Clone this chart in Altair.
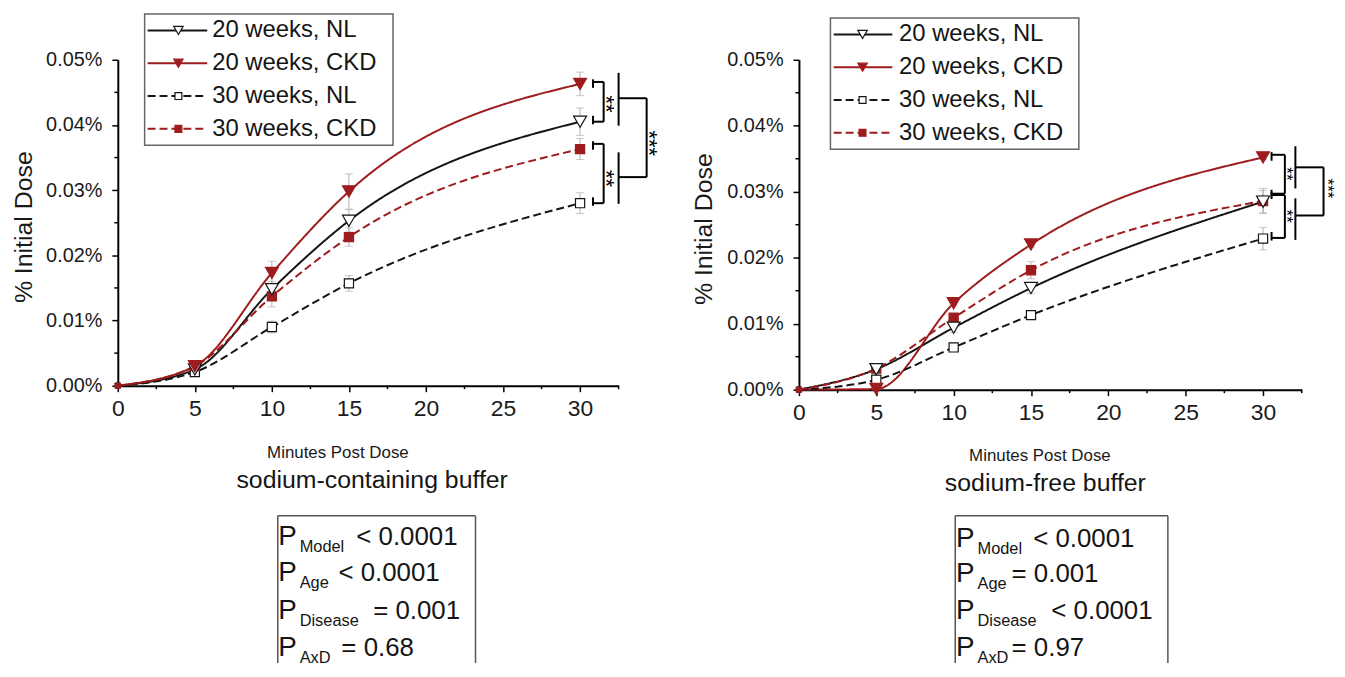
import altair as alt
import pandas as pd

FONT = "Liberation Sans"
BLACK = "#151515"
RED = "#9e1c1e"
GRAY = "#b0b0b0"

# ---------------- data ----------------
minutes = [0, 5, 10, 15, 30]
series_names = ["20 weeks, NL", "20 weeks, CKD", "30 weeks, NL", "30 weeks, CKD"]

# sodium-containing buffer (% initial dose)
na_20_nl = [0.0, 0.0025, 0.0148, 0.0253, 0.0405]
na_20_ckd = [0.0, 0.0030, 0.0173, 0.0298, 0.0463]
na_30_nl = [0.0, 0.0021, 0.0090, 0.0157, 0.0280]
na_30_ckd = [0.0, 0.0030, 0.0137, 0.0228, 0.0363]
na_20_nl_se = [0.0, 0.0003, 0.0012, 0.0017, 0.0021]
na_20_ckd_se = [0.0, 0.0003, 0.0018, 0.0027, 0.0018]
na_30_nl_se = [0.0, 0.0003, 0.0009, 0.0012, 0.0016]
na_30_ckd_se = [0.0, 0.0003, 0.0016, 0.0014, 0.0016]

# sodium-free buffer (% initial dose)
nf_20_nl = [0.0, 0.0031, 0.0094, 0.0154, 0.0285]
nf_20_ckd = [0.0, 0.0001, 0.0131, 0.0220, 0.0352]
nf_30_nl = [0.0, 0.0015, 0.0064, 0.0113, 0.0229]
nf_30_ckd = [0.0, 0.0032, 0.0109, 0.0181, 0.0286]
nf_20_nl_se = [0.0, 0.0002, 0.0007, 0.0008, 0.0017]
nf_20_ckd_se = [0.0, 0.0001, 0.0004, 0.0004, 0.0003]
nf_30_nl_se = [0.0, 0.0004, 0.0004, 0.0006, 0.0017]
nf_30_ckd_se = [0.0, 0.0003, 0.0006, 0.0013, 0.0019]

x_ticks = [0, 5, 10, 15, 20, 25, 30]
x_minor = [2.5, 7.5, 12.5, 17.5, 22.5, 27.5, 32.5]
y_ticks = [0.0, 0.01, 0.02, 0.03, 0.04, 0.05]
y_minor = [0.005, 0.015, 0.025, 0.035, 0.045]

p_names = ["Model", "Age", "Disease", "AxD"]
na_p = ["< 0.0001", "< 0.0001", "= 0.001", "= 0.68"]
nf_p = ["< 0.0001", "= 0.001", "< 0.0001", "= 0.97"]

# significance brackets (x in minutes, y in % initial dose): x1, y1, x2, y2
na_brackets = [
    (30.84, 0.0470, 30.84, 0.0457), (30.84, 0.0466, 31.53, 0.0466),
    (31.53, 0.0466, 31.53, 0.0405), (30.84, 0.0405, 31.53, 0.0405),
    (30.84, 0.0401, 30.84, 0.0414),
    (30.84, 0.0375, 30.84, 0.0362), (30.84, 0.0371, 31.53, 0.0371),
    (31.53, 0.0371, 31.53, 0.0280), (30.84, 0.0280, 31.53, 0.0280),
    (30.84, 0.0276, 30.84, 0.0289),
    (32.50, 0.0480, 32.50, 0.0399), (32.50, 0.0358, 32.50, 0.0279),
    (32.50, 0.0441, 34.32, 0.0441), (34.32, 0.0441, 34.32, 0.0320),
    (32.50, 0.0320, 34.32, 0.0320),
]
na_stars = [(32.0, 0.0432, "**"), (32.0, 0.0318, "**"), (34.8, 0.0372, "***")]

nf_brackets = [
    (30.55, 0.0360, 30.55, 0.0347), (30.55, 0.0356, 31.41, 0.0356),
    (31.41, 0.0356, 31.41, 0.0297), (30.55, 0.0297, 31.41, 0.0297),
    (30.55, 0.0293, 30.55, 0.0303),
    (30.55, 0.0299, 30.55, 0.0289), (30.55, 0.0295, 31.41, 0.0295),
    (31.41, 0.0295, 31.41, 0.0230), (30.55, 0.0230, 31.41, 0.0230),
    (30.55, 0.0226, 30.55, 0.0239),
    (32.09, 0.0369, 32.09, 0.0305), (32.09, 0.0290, 32.09, 0.0227),
    (32.09, 0.0337, 33.91, 0.0337), (33.91, 0.0337, 33.91, 0.0264),
    (32.09, 0.0264, 33.91, 0.0264),
]
nf_stars = [(31.75, 0.0327, "**"), (31.75, 0.0263, "**"), (34.4, 0.0305, "***")]

series_stroke = [BLACK, RED, BLACK, RED]
series_fill = ["white", RED, "white", RED]
series_shape = ["triangle-down", "triangle-down", "square", "square"]
series_dash = [[1, 0], [1, 0], [8, 4], [8, 4]]
legend_size = [90, 90, 48, 48]
TRI_SIZE = 170
SQ_SIZE = 85


def long_df(vals, ses):
    rows = []
    for name, v, s in zip(series_names, vals, ses):
        for m, a, e in zip(minutes, v, s):
            rows.append(dict(minutes=m, value=a, lo=a - e, hi=a + e, se=e, series=name))
    return pd.DataFrame(rows)


ONE = pd.DataFrame({"k": [0]})


def vtext(x, y, text, size, align="left", baseline="alphabetic", color=BLACK, angle=0):
    return alt.Chart(ONE).mark_text(
        text=text, font=FONT, fontSize=size, align=align, baseline=baseline,
        color=color, angle=angle,
    ).encode(x=alt.value(x), y=alt.value(y))


def panel(df, brackets, stars, pvals, L):
    W, H = L["W"], L["H"]
    xs = alt.Scale(domain=[0, 32.5], nice=False, zero=False)
    ys = alt.Scale(domain=[0, 0.05], nice=False, zero=True)
    xax = alt.Axis(values=x_ticks, title="Minutes Post Dose", titleX=L["xtx"], titleY=L["xty"],
                   titleBaseline="middle", titleAlign="center", titleFontSize=17,
                   labelFontSize=23, labelPadding=6, labelFlush=False, grid=False)
    yax = alt.Axis(values=y_ticks, format=".2f", labelExpr="datum.label + '%'",
                   title="% Initial Dose", titleX=L["ytx"], titleY=L["yty"], titleAngle=270,
                   titleBaseline="middle", titleAlign="center", titleFontSize=25,
                   labelFontSize=20, labelPadding=10, grid=False)

    def X(f):
        return alt.X(f, type="quantitative", scale=xs, axis=xax)

    def Y(f):
        return alt.Y(f, type="quantitative", scale=ys, axis=yax)

    dom = series_names
    shape_enc = alt.Shape("series:N", scale=alt.Scale(domain=dom, range=series_shape), legend=None)
    fill_enc = alt.Fill("series:N", scale=alt.Scale(domain=dom, range=series_fill), legend=None)
    stroke_enc = alt.Stroke("series:N", scale=alt.Scale(domain=dom, range=series_stroke), legend=None)
    layers = []
    # legend box
    bx1, by1, bx2, by2 = L["lbox"]
    layers.append(alt.Chart(ONE).mark_rect(fill="white", stroke="#666666", strokeWidth=1.5).encode(
        x=alt.value(bx1), x2=alt.value(bx2), y=alt.value(by1), y2=alt.value(by2)))

    layers.append(alt.Chart(df).mark_line(interpolate="monotone", strokeWidth=2).encode(
        x=X("minutes"), y=Y("value"),
        color=alt.Color("series:N", scale=alt.Scale(domain=dom, range=series_stroke), legend=None),
        strokeDash=alt.StrokeDash("series:N", scale=alt.Scale(domain=dom, range=series_dash), legend=None),
    ))
    layers.append(alt.Chart(df[df.se > 0]).mark_errorbar(ticks=True, size=8, thickness=1, color=GRAY).encode(
        x=X("minutes"), y=Y("lo"), y2=alt.Y2("hi")))
    # small markers at time zero, regular markers afterwards
    layers.append(alt.Chart(df[df.minutes == 0]).mark_point(strokeWidth=1, opacity=1, size=28).encode(
        x=X("minutes"), y=Y("value"), shape=shape_enc, fill=fill_enc, stroke=stroke_enc))
    tri = df[(df.minutes > 0) & df.series.str.startswith("20")]
    sq = df[(df.minutes > 0) & df.series.str.startswith("30")]
    layers.append(alt.Chart(sq).mark_point(strokeWidth=1.2, opacity=1, size=SQ_SIZE).encode(
        x=X("minutes"), y=Y("value"), shape=shape_enc, fill=fill_enc, stroke=stroke_enc))
    layers.append(alt.Chart(tri).mark_point(strokeWidth=1.2, opacity=1, size=TRI_SIZE).encode(
        x=X("minutes"), y=Y("value"), shape=shape_enc, fill=fill_enc, stroke=stroke_enc))
    # minor ticks
    layers.append(alt.Chart(pd.DataFrame({"m": x_minor})).mark_rule(color="black", strokeWidth=1.5).encode(
        x=X("m"), y=alt.value(H), y2=alt.value(H + 3.5)))
    layers.append(alt.Chart(pd.DataFrame({"m": y_minor})).mark_rule(color="black", strokeWidth=1.5).encode(
        y=Y("m"), x=alt.value(-3.5), x2=alt.value(0)))
    # brackets
    bdf = pd.DataFrame(brackets, columns=["x", "y", "x2", "y2"])
    layers.append(alt.Chart(bdf).mark_rule(color="black", strokeWidth=2).encode(
        x=X("x"), y=Y("y"), x2=alt.X2("x2"), y2=alt.Y2("y2")))
    sdf = pd.DataFrame(stars, columns=["x", "y", "t"])
    layers.append(alt.Chart(sdf).mark_text(angle=90, font=FONT, fontSize=L["star"], align="center",
                                           baseline="middle", dy=L["star"] * 0.22, color="black").encode(
        x=X("x"), y=Y("y"), text="t:N"))
    # legend entries
    lx1, lx2, mx, tx = L["lx"]
    for i, name in enumerate(series_names):
        yy = L["lrows"][i]
        layers.append(alt.Chart(ONE).mark_rule(color=series_stroke[i], strokeWidth=2,
                                               strokeDash=series_dash[i]).encode(
            x=alt.value(lx1), x2=alt.value(lx2), y=alt.value(yy)))
        layers.append(alt.Chart(ONE).mark_point(shape=series_shape[i], fill=series_fill[i],
                                                stroke=series_stroke[i], strokeWidth=1.2, opacity=1,
                                                size=legend_size[i]).encode(
            x=alt.value(mx), y=alt.value(yy)))
        layers.append(vtext(tx, yy, name, 24, baseline="middle"))
    # buffer label
    layers.append(vtext(L["bufx"], L["bufy"], L["buf"], 25, align="center", baseline="middle"))
    # p-value box (left, top, right edges)
    px1, py1, px2, py2 = L["pbox"]
    for seg in [(px1, py1, px1, py2), (px1, py1, px2, py1), (px2, py1, px2, py2)]:
        layers.append(alt.Chart(ONE).mark_rule(color="#555555", strokeWidth=1.5).encode(
            x=alt.value(seg[0]), y=alt.value(seg[1]), x2=alt.value(seg[2]), y2=alt.value(seg[3])))
    for i in range(4):
        base = L["pbase"][i]
        layers.append(vtext(L["pPx"], base, "P", 28))
        layers.append(vtext(L["pSx"], base + 7, p_names[i], 16.5))
        layers.append(vtext(L["pVx"][i], base, pvals[i], 26))

    return alt.layer(*layers).properties(width=W, height=H)


left_df = long_df([na_20_nl, na_20_ckd, na_30_nl, na_30_ckd],
                  [na_20_nl_se, na_20_ckd_se, na_30_nl_se, na_30_ckd_se])
right_df = long_df([nf_20_nl, nf_20_ckd, nf_30_nl, nf_30_ckd],
                   [nf_20_nl_se, nf_20_ckd_se, nf_30_nl_se, nf_30_ckd_se])

LEFT = dict(W=504, H=328, xtx=221, xty=67, ytx=-95, yty=168,
            lbox=(27, -46, 277, 86), lrows=[-29.5, 3.5, 36.5, 69.5], lx=(30, 90, 61, 95),
            star=22, buf="sodium-containing buffer", bufx=256, bufy=423,
            pbox=(161, 459, 360, 607), pbase=[488, 525, 563, 600], pPx=161.5, pSx=183,
            pVx=[240, 222, 257, 225])
RIGHT = dict(W=506, H=332, xtx=242, xty=66, ytx=-96, yty=170,
             lbox=(31.7, -42, 281.7, 90), lrows=[-25.5, 7.5, 40.5, 73.5], lx=(35, 94, 64, 100.7),
             star=17, buf="sodium-free buffer", bufx=248, bufy=426,
             pbox=(157.3, 459, 371.3, 607), pbase=[490, 526, 563, 600], pPx=158,
             pSx=179.7, pVx=[235.7, 214, 254, 214])

left = panel(left_df, na_brackets, na_stars, na_p, LEFT)
right = panel(right_df, nf_brackets, nf_stars, nf_p, RIGHT)

chart = alt.hconcat(left, right, spacing=181.5, bounds="flush").configure_axis(
    domainColor="black", domainWidth=2, tickColor="black", tickWidth=1.5, tickSize=6,
    labelFont=FONT, titleFont=FONT, labelColor="#1a1a1a", titleColor="#1a1a1a",
    titleFontWeight="normal", grid=False,
).configure_view(stroke=None).properties(
    padding={"left": 3.5, "top": 3, "right": 0, "bottom": 0}
)

chart.save("out.html", embed_options={"renderer": "svg", "actions": False})
